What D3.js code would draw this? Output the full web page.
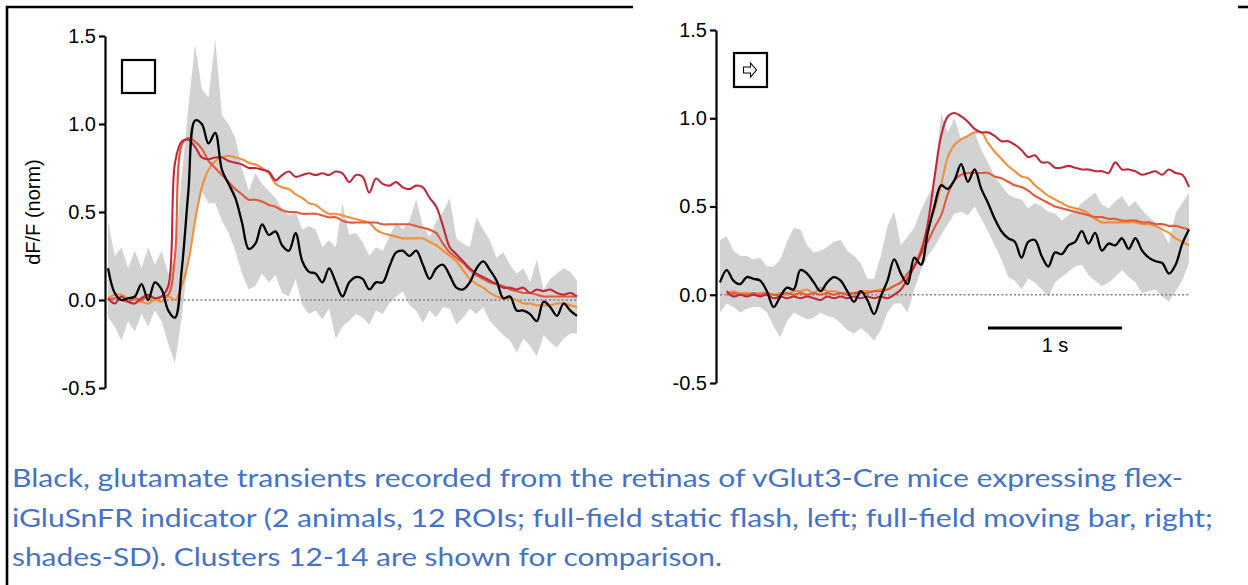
<!DOCTYPE html>
<html>
<head>
<meta charset="utf-8">
<script src="https://cdn.jsdelivr.net/npm/d3@7"></script>
<style>
  body { margin: 0; background: #fff; }
  svg { display: block; }
  .axis path, .axis line { stroke: #000; stroke-width: 2.2; }
  .axis text { font-family: "Liberation Sans", Arial, sans-serif; font-size: 20px; fill: #000; }
</style>
</head>
<body>
<div id="page-container"></div>
<script>

  // sample grid: 0.05 s steps over a 3.5 s window
  var times = d3.range(71).map(i => i * 0.05);
  var yTicks = [-0.5, 0.0, 0.5, 1.0, 1.5];

  // ---- left: full-field static flash ----
  var flashBlack = [0.18,0.04,0.0,0.01,0.02,0.09,0.0,0.10,0.06,-0.06,
                    -0.10,0.17,0.62,1.02,1.0,0.89,0.95,0.74,0.66,0.58,
                    0.44,0.29,0.32,0.43,0.37,0.39,0.31,0.28,0.38,0.22,
                    0.16,0.15,0.10,0.18,0.10,0.02,0.10,0.13,0.12,0.06,
                    0.10,0.10,0.19,0.27,0.28,0.25,0.28,0.20,0.12,0.18,
                    0.20,0.14,0.07,0.06,0.10,0.18,0.22,0.17,0.11,0.01,
                    0.02,-0.06,-0.06,-0.08,-0.12,-0.01,-0.04,-0.09,-0.02,-0.06,-0.09];
  var flashUpper = [0.45,0.25,0.30,0.18,0.28,0.18,0.30,0.20,0.28,0.15,
                    0.25,0.70,1.10,1.45,1.20,1.15,1.48,1.05,1.00,0.92,
                    0.75,0.62,0.72,0.66,0.62,0.58,0.52,0.48,0.50,0.40,
                    0.42,0.40,0.30,0.34,0.30,0.55,0.37,0.38,0.33,0.25,
                    0.30,0.28,0.36,0.44,0.40,0.45,0.57,0.42,0.36,0.45,
                    0.50,0.58,0.35,0.32,0.30,0.47,0.40,0.34,0.24,0.27,
                    0.20,0.15,0.18,0.10,0.23,0.06,0.12,0.15,0.18,0.16,0.11];
  var flashLower = [-0.10,-0.15,-0.23,-0.12,-0.18,-0.08,-0.15,-0.06,-0.12,-0.25,
                    -0.36,-0.10,0.25,0.45,0.62,0.55,0.55,0.45,0.38,0.28,
                    0.15,0.06,0.08,0.15,0.10,0.14,0.04,0.02,0.12,-0.03,
                    -0.08,-0.06,-0.11,-0.05,-0.22,-0.15,-0.12,-0.08,-0.10,-0.14,
                    -0.06,-0.08,-0.02,0.02,0.05,-0.03,-0.06,-0.13,-0.06,-0.10,
                    -0.04,-0.05,-0.14,-0.10,-0.05,-0.08,-0.04,-0.12,-0.16,-0.20,
                    -0.23,-0.30,-0.22,-0.26,-0.32,-0.20,-0.24,-0.27,-0.22,-0.19,-0.19];
  var flashCrimson = [0.01,-0.02,0.02,-0.01,-0.02,0.01,0.03,0.01,0.02,0.08,
                      0.78,0.90,0.91,0.87,0.81,0.80,0.81,0.81,0.79,0.78,
                      0.77,0.75,0.75,0.74,0.73,0.68,0.71,0.73,0.70,0.71,
                      0.72,0.71,0.72,0.71,0.73,0.72,0.67,0.71,0.70,0.61,
                      0.69,0.66,0.65,0.67,0.64,0.63,0.65,0.64,0.58,0.53,
                      0.42,0.30,0.26,0.22,0.18,0.15,0.13,0.11,0.09,0.07,
                      0.07,0.06,0.07,0.04,0.06,0.05,0.06,0.04,0.03,0.04,0.02];
  var flashRed = [0.0,0.01,0.0,-0.01,0.01,0.0,0.02,0.01,0.02,0.03,
                  0.25,0.88,0.92,0.90,0.86,0.79,0.75,0.71,0.67,0.63,
                  0.60,0.57,0.57,0.56,0.54,0.53,0.51,0.50,0.50,0.49,
                  0.49,0.49,0.48,0.47,0.47,0.45,0.44,0.44,0.44,0.44,
                  0.44,0.43,0.43,0.43,0.43,0.43,0.42,0.41,0.40,0.38,
                  0.32,0.27,0.24,0.21,0.17,0.14,0.12,0.10,0.09,0.08,
                  0.06,0.05,0.04,0.04,0.03,0.02,0.02,0.02,0.02,0.02,0.02];
  var flashOrange = [0.01,0.03,0.03,0.01,0.0,-0.01,-0.02,0.0,-0.01,0.02,
                     0.0,0.08,0.22,0.45,0.64,0.74,0.79,0.81,0.82,0.81,
                     0.80,0.78,0.77,0.75,0.72,0.66,0.64,0.63,0.60,0.58,
                     0.55,0.54,0.51,0.49,0.49,0.48,0.47,0.46,0.45,0.44,
                     0.40,0.38,0.37,0.36,0.35,0.35,0.35,0.35,0.33,0.31,
                     0.28,0.25,0.22,0.17,0.12,0.09,0.07,0.04,0.02,0.01,
                     0.01,0.0,-0.02,-0.02,-0.03,-0.03,-0.03,-0.02,-0.02,-0.03,-0.04];

  // ---- right: full-field moving bar ----
  var barBlack = [0.07,0.14,0.08,0.06,0.10,0.09,0.08,0.02,-0.07,-0.01,
                  0.04,0.03,0.14,0.12,0.07,0.02,0.07,0.10,0.08,0.02,
                  -0.04,0.02,-0.03,-0.11,-0.01,0.08,0.20,0.12,0.06,0.21,
                  0.17,0.35,0.50,0.62,0.60,0.65,0.74,0.64,0.71,0.60,
                  0.52,0.43,0.36,0.32,0.30,0.21,0.30,0.31,0.22,0.16,
                  0.24,0.23,0.28,0.30,0.36,0.29,0.35,0.25,0.29,0.28,
                  0.32,0.26,0.32,0.25,0.21,0.19,0.18,0.12,0.17,0.29,0.37];
  var barUpper = [0.31,0.33,0.25,0.22,0.22,0.20,0.21,0.16,0.16,0.20,
                  0.30,0.38,0.37,0.28,0.24,0.25,0.27,0.30,0.31,0.25,
                  0.22,0.18,0.09,0.09,0.22,0.39,0.47,0.28,0.33,0.38,
                  0.48,0.56,0.62,1.03,0.92,1.00,0.88,0.90,0.92,0.82,
                  0.75,0.67,0.62,0.57,0.55,0.54,0.49,0.52,0.50,0.47,
                  0.46,0.42,0.45,0.48,0.52,0.55,0.58,0.51,0.49,0.53,
                  0.56,0.50,0.53,0.48,0.44,0.41,0.36,0.29,0.46,0.52,0.58];
  var barLower = [-0.10,-0.05,-0.07,-0.10,-0.08,-0.07,-0.07,-0.10,-0.18,-0.24,
                  -0.15,-0.10,-0.12,-0.14,-0.13,-0.10,-0.12,-0.13,-0.16,-0.20,
                  -0.22,-0.19,-0.22,-0.26,-0.20,-0.10,-0.05,-0.05,-0.10,0.03,
                  0.14,0.22,0.27,0.34,0.40,0.46,0.47,0.45,0.50,0.43,
                  0.36,0.28,0.20,0.10,0.08,0.03,0.09,0.07,0.03,-0.01,
                  0.07,0.10,0.13,0.16,0.17,0.11,0.08,0.05,0.07,0.10,
                  0.14,0.10,0.07,0.01,0.02,0.03,-0.01,-0.04,0.02,0.08,0.18];
  var barCrimson = [null,0.02,-0.01,0.0,-0.01,0.0,-0.01,0.0,-0.02,-0.01,
                    -0.02,-0.01,-0.02,-0.01,-0.02,-0.03,-0.01,-0.02,-0.01,-0.02,
                    -0.01,-0.02,-0.01,-0.02,-0.01,-0.02,0.0,0.03,0.09,0.16,
                    0.24,0.40,0.66,0.90,1.01,1.03,1.01,0.98,0.94,0.92,
                    0.92,0.90,0.87,0.87,0.85,0.82,0.78,0.79,0.75,0.75,
                    0.72,0.72,0.73,0.72,0.71,0.71,0.70,0.70,0.69,0.75,
                    0.71,0.71,0.70,0.68,0.69,0.70,0.68,0.71,0.69,0.68,0.61];
  var barRed = [null,0.0,0.01,0.0,0.0,0.01,0.0,0.01,0.0,0.0,
                0.01,0.0,0.01,0.0,0.01,0.0,0.01,0.0,0.01,0.0,
                0.01,0.01,0.01,0.02,0.02,0.03,0.05,0.07,0.12,0.16,
                0.23,0.30,0.38,0.45,0.57,0.65,0.68,0.69,0.69,0.69,
                0.69,0.67,0.66,0.64,0.62,0.61,0.59,0.56,0.54,0.52,
                0.50,0.49,0.48,0.47,0.46,0.45,0.44,0.44,0.43,0.43,
                0.42,0.42,0.42,0.41,0.41,0.40,0.40,0.39,0.39,0.38,0.37];
  var barOrange = [null,0.01,0.02,0.01,0.01,0.0,0.01,0.01,0.0,0.01,
                   0.0,0.02,0.02,0.03,0.01,0.04,0.02,0.02,0.01,0.01,
                   0.01,0.02,0.02,0.02,0.03,0.03,0.05,0.07,0.12,0.17,
                   0.26,0.38,0.48,0.62,0.78,0.85,0.88,0.90,0.92,0.92,
                   0.86,0.81,0.77,0.73,0.70,0.67,0.66,0.62,0.59,0.56,
                   0.54,0.52,0.50,0.49,0.48,0.46,0.43,0.41,0.41,0.41,
                   0.41,0.41,0.41,0.40,0.40,0.39,0.37,0.35,0.32,0.30,0.28];

  var captionLines = [
    "Black, glutamate transients recorded from the retinas of vGlut3-Cre mice expressing flex-",
    "iGluSnFR indicator (2 animals, 12 ROIs; full-field static flash, left; full-field moving bar, right;",
    "shades-SD). Clusters 12-14 are shown for comparison."
  ];

  var colors = {orange: "#f0903a", red: "#e05a3b", crimson: "#c0283d", black: "#000", band: "#d2d2d2"};

  var svg = d3.select("#page-container").append("svg")
      .attr("width", 1248)
      .attr("height", 585);

  // page frame from the document
  svg.append("path").attr("d", "M7,585V7H633").attr("fill", "none").attr("stroke", "#000").attr("stroke-width", 2.6);
  svg.append("line").attr("x1", 1238).attr("x2", 1248).attr("y1", 7).attr("y2", 7)
     .attr("stroke", "#000").attr("stroke-width", 2.6);

  var panels = [
    {x0: 108, x1: 577, y0: 388, y1: 36, axisX: 105,
     black: flashBlack, upper: flashUpper, lower: flashLower,
     crimson: flashCrimson, red: flashRed, orange: flashOrange,
     box: [122, 60, 33, 33], arrow: false, label: true},
    {x0: 720, x1: 1189, y0: 383, y1: 30, axisX: 716,
     black: barBlack, upper: barUpper, lower: barLower,
     crimson: barCrimson, red: barRed, orange: barOrange,
     box: [734, 53, 33, 34], arrow: true, label: false}
  ];

  panels.forEach(p => {
    var x = d3.scaleLinear().domain([0, 3.5]).range([p.x0, p.x1]);
    var y = d3.scaleLinear().domain([-0.5, 1.5]).range([p.y0, p.y1]);

    var area = d3.area()
        .x((d, i) => x(times[i]))
        .y0((d, i) => y(p.lower[i]))
        .y1((d, i) => y(p.upper[i]));

    svg.append("path")
        .attr("d", area(times))
        .attr("fill", colors.band);

    svg.append("line")
        .attr("x1", x(0)).attr("x2", x(3.5))
        .attr("y1", y(0)).attr("y2", y(0))
        .attr("stroke", "#808080")
        .attr("stroke-width", 1.6)
        .attr("stroke-dasharray", "2,2.2");

    var line = d3.line()
        .defined(d => d != null)
        .x((d, i) => x(times[i]))
        .y(d => y(d))
        .curve(d3.curveCatmullRom);

    ["orange", "red", "crimson", "black"].forEach(k => {
      svg.append("path")
          .attr("d", line(p[k]))
          .attr("fill", "none")
          .attr("stroke", colors[k])
          .attr("stroke-width", k == "black" ? 2.3 : 2.1)
          .attr("stroke-linejoin", "round");
    });

    svg.append("g")
        .attr("class", "axis")
        .attr("transform", "translate(" + p.axisX + ",0)")
        .call(d3.axisLeft(y).tickValues(yTicks).tickFormat(d => d.toFixed(1))
                .tickSize(6).tickSizeOuter(0).tickPadding(3));

    // stimulus icon
    var b = p.box;
    svg.append("rect")
        .attr("x", b[0]).attr("y", b[1]).attr("width", b[2]).attr("height", b[3])
        .attr("fill", "#fff").attr("stroke", "#000").attr("stroke-width", 2.2);
    if (p.arrow) {
      var cx = b[0] + b[2] / 2, cy = b[1] + b[3] / 2;
      svg.append("path")
          .attr("d", "M" + (cx - 7) + "," + (cy - 3) + "H" + cx + "V" + (cy - 7) +
                     "L" + (cx + 6) + "," + cy + "L" + cx + "," + (cy + 7) +
                     "V" + (cy + 3) + "H" + (cx - 7) + "Z")
          .attr("fill", "#fff").attr("stroke", "#000").attr("stroke-width", 1.1);
    }

    if (p.label) {
      svg.append("text")
          .attr("transform", "translate(40," + y(0.5) + ") rotate(-90)")
          .attr("text-anchor", "middle")
          .style("font-family", "'Liberation Sans', Arial, sans-serif")
          .style("font-size", "20px")
          .text("dF/F (norm)");
    } else {
      // 1 s scale bar
      svg.append("line")
          .attr("x1", x(2)).attr("x2", x(3))
          .attr("y1", 328).attr("y2", 328)
          .attr("stroke", "#000").attr("stroke-width", 3);
      svg.append("text")
          .attr("x", (x(2) + x(3)) / 2).attr("y", 352)
          .attr("text-anchor", "middle")
          .style("font-family", "'Liberation Sans', Arial, sans-serif")
          .style("font-size", "20px")
          .text("1 s");
    }
  });

  // caption
  var capWidths = [1171, 1201, 710];
  svg.append("g").selectAll("text")
      .data(captionLines)
    .enter().append("text")
      .attr("x", 12)
      .attr("y", (d, i) => 487 + i * 39.5)
      .attr("textLength", (d, i) => capWidths[i])
      .attr("lengthAdjust", "spacingAndGlyphs")
      .attr("fill", "#4472c4")
      .style("font-family", "Lato, 'Open Sans', sans-serif")
      .style("font-size", "25px")
      .text(d => d);

</script>
</body>
</html>
